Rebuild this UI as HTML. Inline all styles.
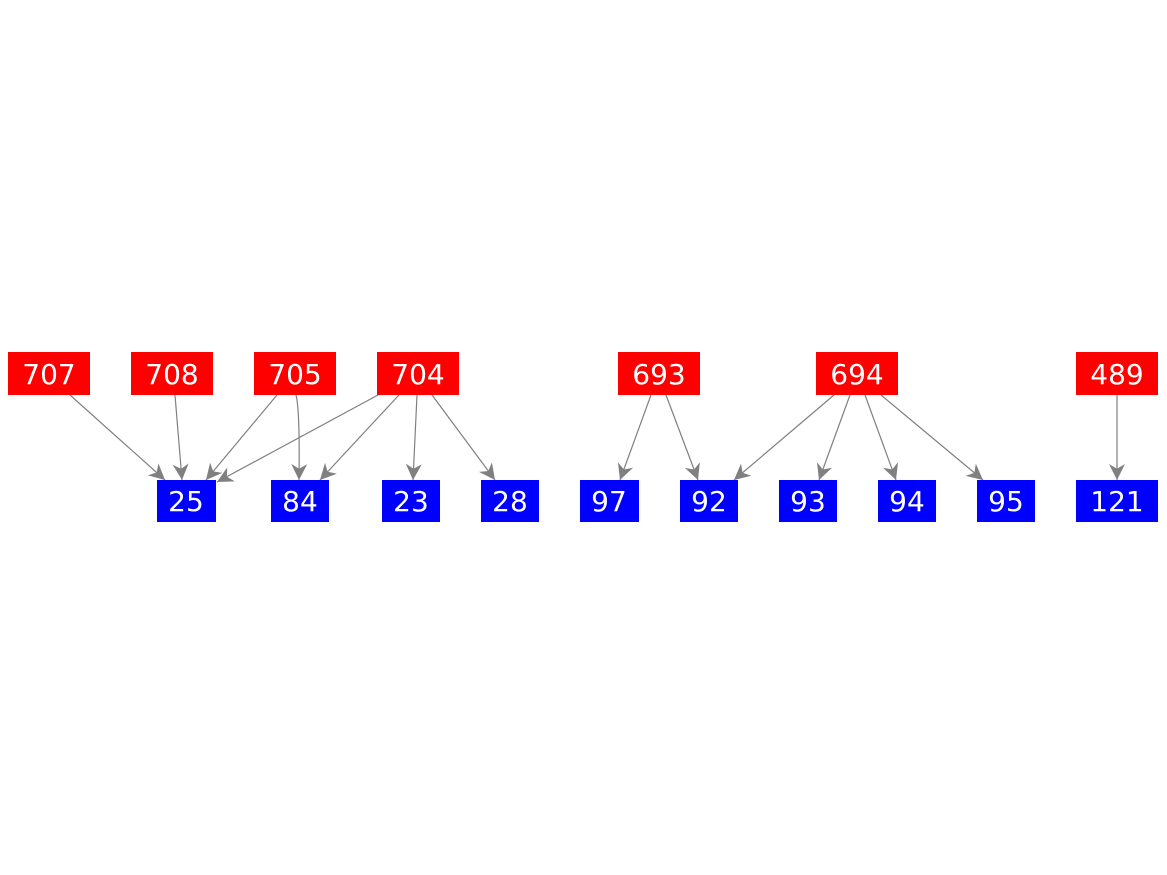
<!DOCTYPE html>
<html><head><meta charset="utf-8"><style>
html,body{margin:0;padding:0;background:#fff;}
svg{display:block;}
text{font-family:"DejaVu Sans","Liberation Sans",sans-serif;font-size:28px;fill:#fff;text-anchor:middle;}
</style></head><body>
<svg width="1167" height="875" viewBox="0 0 1167 875">
<defs><marker id="a" viewBox="0 0 10 10" refX="10" refY="5" markerWidth="16" markerHeight="16" markerUnits="userSpaceOnUse" orient="auto"><path d="M0,0 L10,5 L0,10 L3,5 z" fill="#808080"/></marker></defs>
<g stroke="#808080" stroke-width="1.2" fill="none" marker-end="url(#a)">
<line x1="70" y1="395" x2="165" y2="480"/>
<line x1="175" y1="395" x2="182" y2="480"/>
<line x1="277" y1="395" x2="206" y2="480"/>
<path d="M296,395 Q300,410 299,480"/>
<line x1="378" y1="395" x2="217" y2="482"/>
<line x1="399" y1="395" x2="320" y2="480"/>
<line x1="417" y1="395" x2="413" y2="480"/>
<line x1="432" y1="395" x2="495" y2="480"/>
<line x1="651" y1="395" x2="620" y2="480"/>
<line x1="666" y1="395" x2="698" y2="480"/>
<line x1="834" y1="395" x2="734" y2="480"/>
<line x1="850" y1="395" x2="819" y2="480"/>
<line x1="865" y1="395" x2="896" y2="480"/>
<line x1="881" y1="395" x2="983" y2="480"/>
<line x1="1117" y1="395" x2="1117" y2="480"/>
</g>
<g fill="#ff0000">
<rect x="8" y="352" width="82" height="43"/>
<rect x="131" y="352" width="82" height="43"/>
<rect x="254" y="352" width="82" height="43"/>
<rect x="377" y="352" width="82" height="43"/>
<rect x="618" y="352" width="82" height="43"/>
<rect x="816" y="352" width="82" height="43"/>
<rect x="1076" y="352" width="82" height="43"/>
</g>
<g fill="#0000ff">
<rect x="157" y="480" width="59" height="42"/>
<rect x="271" y="480" width="58" height="42"/>
<rect x="382" y="480" width="58" height="42"/>
<rect x="481" y="480" width="58" height="42"/>
<rect x="580" y="480" width="59" height="42"/>
<rect x="680" y="480" width="58" height="42"/>
<rect x="779" y="480" width="58" height="42"/>
<rect x="878" y="480" width="58" height="42"/>
<rect x="977" y="480" width="58" height="42"/>
<rect x="1076" y="480" width="82" height="42"/>
</g>
<text x="49" y="384">707</text>
<text x="172" y="384">708</text>
<text x="295" y="384">705</text>
<text x="418" y="384">704</text>
<text x="659" y="384">693</text>
<text x="857" y="384">694</text>
<text x="1117" y="384">489</text>
<text x="186" y="511">25</text>
<text x="300" y="511">84</text>
<text x="411" y="511">23</text>
<text x="510" y="511">28</text>
<text x="609" y="511">97</text>
<text x="709" y="511">92</text>
<text x="808" y="511">93</text>
<text x="907" y="511">94</text>
<text x="1006" y="511">95</text>
<text x="1117" y="511">121</text>
</svg>
</body></html>
